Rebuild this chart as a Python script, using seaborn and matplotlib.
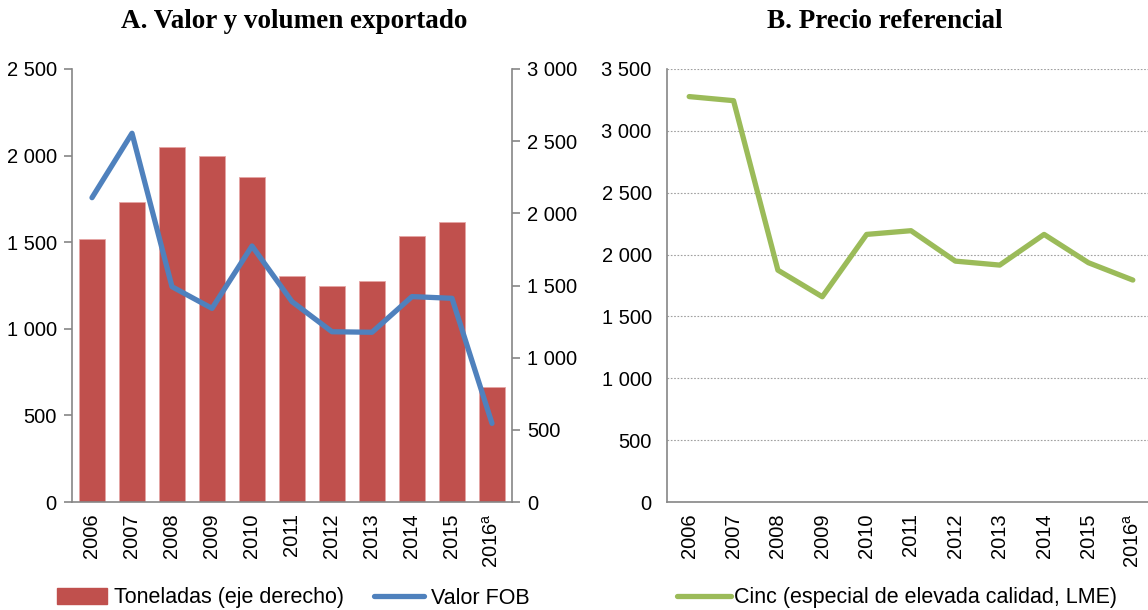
import numpy as np
import pandas as pd
import matplotlib
matplotlib.use("Agg")
import matplotlib.pyplot as plt
from matplotlib.patches import Patch
from matplotlib.lines import Line2D
import seaborn as sns

# datos
anios = ["2006", "2007", "2008", "2009", "2010", "2011", "2012", "2013", "2014", "2015", "2016$^{\\mathrm{a}}$"]
toneladas = [1820, 2081, 2462, 2397, 2250, 1564, 1494, 1531, 1845, 1938, 795]
valor_fob = [1757, 2129, 1243, 1118, 1478, 1157, 983, 980, 1186, 1176, 454]
precio_cinc = [3277, 3244, 1874, 1659, 2163, 2193, 1947, 1915, 2163, 1934, 1794]

ROJO = "#C0504D"
AZUL = "#4F81BD"
VERDE = "#9BBB59"
GRIS = "#868686"
TAM_TICK = 14.5
TAM_LEY = 15.5
TAM_TIT = 19.5

sns.set_theme(style="white")
plt.rcParams["font.family"] = ["Liberation Sans", "DejaVu Sans"]
plt.rcParams["mathtext.fontset"] = "custom"
plt.rcParams["mathtext.rm"] = "Liberation Sans"
plt.rcParams["text.color"] = "black"
plt.rcParams["xtick.color"] = "black"
plt.rcParams["ytick.color"] = "black"

df = pd.DataFrame({"anio": anios, "pos": range(len(anios)),
                   "toneladas": toneladas, "valor": valor_fob, "precio": precio_cinc})


def miles(v):
    return f"{v:,.0f}".replace(",", " ")


def formato_x(ax):
    ax.set_xlim(-0.5, len(anios) - 0.5)
    ax.set_xticks(range(len(anios)))
    ax.set_xticklabels(anios, rotation=90, fontsize=TAM_TICK)
    ax.set_xticks(np.arange(-0.5, len(anios), 1), minor=True)
    ax.tick_params(axis="x", which="major", length=0, pad=8)
    ax.tick_params(axis="x", which="minor", length=6, width=1.2, color=GRIS, direction="out")
    ax.set_xlabel("")


fig = plt.figure(figsize=(11.48, 6.10), dpi=100)

# A. Valor y volumen exportado
ax = fig.add_axes([72 / 1148, 1 - 502 / 610, 440 / 1148, 433 / 610])
axr = ax.twinx()

sns.barplot(data=df, x="pos", y="toneladas", ax=axr, color=ROJO, width=0.67,
            saturation=1, edgecolor="#E6A5A4", linewidth=0.6)
sns.lineplot(data=df, x="pos", y="valor", ax=ax, color=AZUL, linewidth=3.8)
ax.set_zorder(axr.get_zorder() + 1)
ax.patch.set_visible(False)

ax.set_ylim(0, 2500)
ax.set_yticks(range(0, 2501, 500))
ax.set_yticklabels([miles(v) for v in range(0, 2501, 500)], fontsize=TAM_TICK)
axr.set_ylim(0, 3000)
axr.set_yticks(range(0, 3001, 500))
axr.set_yticklabels([miles(v) for v in range(0, 3001, 500)], fontsize=TAM_TICK)
axr.set_ylabel("")
ax.set_ylabel("")
formato_x(ax)
formato_x(axr)
axr.tick_params(axis="x", which="both", labelbottom=False, length=0)

for a in (ax, axr):
    a.spines["top"].set_visible(False)
    for lado in ("left", "right", "bottom"):
        a.spines[lado].set_color(GRIS)
        a.spines[lado].set_linewidth(1.2)
ax.spines["right"].set_visible(False)
axr.spines["left"].set_visible(False)
axr.spines["bottom"].set_visible(False)
ax.tick_params(axis="y", length=6, width=1.2, color=GRIS, direction="out", pad=5)
axr.tick_params(axis="y", length=6, width=1.2, color=GRIS, direction="out", pad=5)

fig.text(294 / 1148, 1 - 22 / 610, "A. Valor y volumen exportado", ha="center", va="center",
         family=["Liberation Serif", "DejaVu Serif"], fontweight="bold", fontsize=TAM_TIT)

# B. Precio referencial
bx = fig.add_axes([667 / 1148, 1 - 502 / 610, 488 / 1148, 433 / 610])
sns.lineplot(data=df, x="pos", y="precio", ax=bx, color=VERDE, linewidth=3.8)
bx.set_ylim(0, 3500)
bx.set_yticks(range(0, 3501, 500))
bx.set_yticklabels([miles(v) for v in range(0, 3501, 500)], fontsize=TAM_TICK)
bx.set_ylabel("")
formato_x(bx)
bx.yaxis.grid(True, color="#A0A0A0", linestyle=(0, (1.5, 1.5)), linewidth=0.8)
bx.set_axisbelow(True)
for lado in ("top", "right"):
    bx.spines[lado].set_visible(False)
for lado in ("left", "bottom"):
    bx.spines[lado].set_color(GRIS)
    bx.spines[lado].set_linewidth(1.2)
bx.tick_params(axis="y", length=6, width=1.2, color=GRIS, direction="out", pad=5)

fig.text(885 / 1148, 1 - 22 / 610, "B. Precio referencial", ha="center", va="center",
         family=["Liberation Serif", "DejaVu Serif"], fontweight="bold", fontsize=TAM_TIT)

# leyendas
h1 = [Patch(facecolor=ROJO, edgecolor=ROJO), Line2D([], [], color=AZUL, linewidth=3.8)]
fig.legend(h1, ["Toneladas (eje derecho)", "Valor FOB"], loc="center left",
           bbox_to_anchor=(57 / 1148, 1 - 598 / 610), ncol=2, frameon=False, fontsize=TAM_LEY,
           handlelength=2.3, handleheight=0.7, handletextpad=0.35, columnspacing=1.4,
           borderaxespad=0, borderpad=0)
h2 = [Line2D([], [], color=VERDE, linewidth=3.8)]
fig.legend(h2, ["Cinc (especial de elevada calidad, LME)"], loc="center left",
           bbox_to_anchor=(677 / 1148, 1 - 598 / 610), frameon=False, fontsize=TAM_LEY,
           handlelength=2.5, handletextpad=0.15, borderaxespad=0, borderpad=0)

fig.savefig("out.png", dpi=100)
